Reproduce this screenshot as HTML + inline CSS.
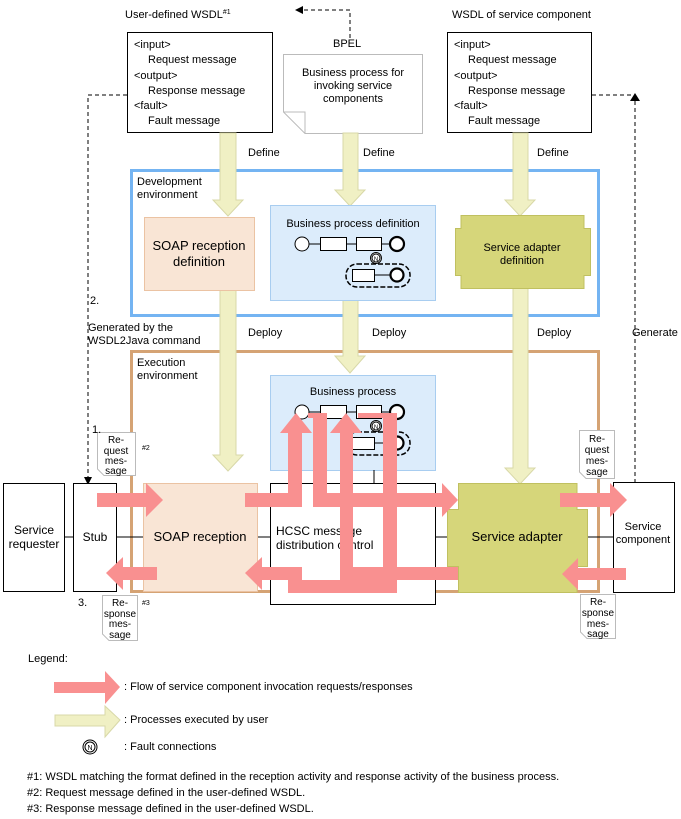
<!DOCTYPE html>
<html><head><meta charset="utf-8"><style>
html,body{margin:0;padding:0;background:#fff}
svg{display:block;font-family:"Liberation Sans",sans-serif;font-size:11px;fill:#000}
</style></head><body>
<svg width="681" height="819" viewBox="0 0 681 819" xmlns="http://www.w3.org/2000/svg">
<defs>
<marker id="ah" markerWidth="8" markerHeight="8" refX="7" refY="4" orient="auto" markerUnits="userSpaceOnUse"><path d="M0,0 L8,4 L0,8 z" fill="#000"/></marker>
</defs>
<g font-size="11">
<text x="125" y="18">User-defined WSDL<tspan font-size="7" dy="-4">#1</tspan></text>
<text x="452" y="18">WSDL of service component</text>
<text x="333" y="47">BPEL</text>
<path d="M350,38 V10 H296" fill="none" stroke="#000" stroke-dasharray="4,3" marker-end="url(#ah)"/>
<rect x="127.5" y="32.5" width="145" height="100" fill="#fff" stroke="#000"/>
<text x="134" y="48">&lt;input&gt;</text><text x="148" y="63">Request message</text>
<text x="134" y="79">&lt;output&gt;</text><text x="148" y="94">Response message</text>
<text x="134" y="109">&lt;fault&gt;</text><text x="148" y="124">Fault message</text>
<rect x="447.5" y="32.5" width="144" height="100" fill="#fff" stroke="#000"/>
<text x="454" y="48">&lt;input&gt;</text><text x="468" y="63">Request message</text>
<text x="454" y="79">&lt;output&gt;</text><text x="468" y="94">Response message</text>
<text x="454" y="109">&lt;fault&gt;</text><text x="468" y="124">Fault message</text>
<path d="M283.5,54.5 H422.5 V133.5 H305 L283.5,112 z" fill="#fff" stroke="#bbb"/>
<path d="M283.5,112 L305,112 L305,133.5" fill="none" stroke="#bbb"/>
<text x="353" y="76" text-anchor="middle">Business process for</text>
<text x="353" y="89" text-anchor="middle">invoking service</text>
<text x="353" y="102" text-anchor="middle">components</text>
<path d="M127,95 H88 V484" fill="none" stroke="#000" stroke-dasharray="4,3" marker-end="url(#ah)"/>
<path d="M592,95 H635 V482" fill="none" stroke="#000" stroke-dasharray="4,3"/>
<path d="M630,101 L635,93 L640,101 z" fill="#000"/>
<rect x="131.5" y="170.5" width="467" height="145" fill="none" stroke="#74b4f2" stroke-width="3"/>
<text x="137" y="185">Development</text><text x="137" y="198">environment</text>
<rect x="131.5" y="351.5" width="467" height="240" fill="none" stroke="#d5a374" stroke-width="3"/>
<text x="137" y="366">Execution</text><text x="137" y="379">environment</text>
<g fill="#f0f0c4" stroke="#d8d8a8">
<path d="M220,133 H236 V200 H243 L228,216 L213,200 H220 z"/>
<path d="M343,133 H358 V190 H365 L350,206 L335,190 H343 z"/>
<path d="M513,133 H528 V200 H535 L520,216 L505,200 H513 z"/>
<path d="M220,290 H236 V455 H243 L228,471 L213,455 H220 z"/>
<path d="M343,300 H358 V356 H365 L350,373 L335,356 H343 z"/>
<path d="M513,288 H528 V468 H535 L520,484 L505,468 H513 z"/>
</g>
<text x="248" y="156">Define</text><text x="363" y="156">Define</text><text x="537" y="156">Define</text>
<text x="248" y="336">Deploy</text><text x="372" y="336">Deploy</text><text x="537" y="336">Deploy</text>
<text x="90" y="304">2.</text>
<text x="88" y="331">Generated by the</text><text x="88" y="344">WSDL2Java command</text>
<text x="632" y="336">Generate</text>
<rect x="144.5" y="217.5" width="110" height="73" fill="#f9e5d5" stroke="#ebc3a3"/>
<text x="199" y="250" text-anchor="middle" font-size="13">SOAP reception</text>
<text x="199" y="266" text-anchor="middle" font-size="13">definition</text>
<rect x="270.5" y="205.5" width="165" height="95" fill="#dcecfb" stroke="#a8cdf0"/>
<text x="353" y="227" text-anchor="middle">Business process definition</text>
<path d="M455.5,228.5 H461 V215.5 H584 V228.5 H590.5 V275.5 H584 V288.5 H461 V275.5 H455.5 z" fill="#d6d67a" stroke="#c0c060"/>
<text x="522" y="251" text-anchor="middle">Service adapter</text>
<text x="522" y="264" text-anchor="middle">definition</text>
<g id="pd" fill="#fff" stroke="#000">
<line x1="305" y1="244" x2="390" y2="244"/>
<circle cx="302" cy="244" r="7"/>
<rect x="320.5" y="237.5" width="26" height="13"/>
<rect x="356.5" y="237.5" width="25" height="13"/>
<circle cx="397" cy="244" r="7" stroke-width="2.2"/>
<circle cx="376" cy="258" r="5.5"/><circle cx="376" cy="258" r="4"/>
<rect x="346" y="264" width="64" height="23" rx="11" fill="none" stroke-dasharray="5,2" stroke-width="1.5"/>
<line x1="375" y1="275" x2="392" y2="275"/>
<rect x="352.5" y="269.5" width="22" height="12"/>
<circle cx="397" cy="275" r="6.5" stroke-width="2.2"/>
</g>
<text x="376" y="261" font-size="6" text-anchor="middle">N</text>
<rect x="270.5" y="375.5" width="165" height="95" fill="#dcecfb" stroke="#a8cdf0"/>
<text x="353" y="395" text-anchor="middle">Business process</text>
<use href="#pd" transform="translate(0,168)"/>
<text x="376" y="429" font-size="6" text-anchor="middle">N</text>
<line x1="374" y1="470" x2="374" y2="483" stroke="#000"/>
<rect x="270.5" y="483.5" width="165" height="121" fill="#fff" stroke="#000"/>
<text x="276" y="535" font-size="12">HCSC message</text>
<text x="276" y="549" font-size="12">distribution control</text>
<line x1="64" y1="537" x2="73" y2="537" stroke="#000"/>
<line x1="116" y1="537" x2="144" y2="537" stroke="#000"/>
<line x1="257" y1="537" x2="271" y2="537" stroke="#000"/>
<line x1="435" y1="537" x2="448" y2="537" stroke="#000"/>
<line x1="587" y1="537" x2="613" y2="537" stroke="#000"/>
<rect x="3.5" y="483.5" width="61" height="108" fill="#fff" stroke="#000"/>
<text x="34" y="534" text-anchor="middle" font-size="12">Service</text>
<text x="34" y="548" text-anchor="middle" font-size="12">requester</text>
<rect x="73.5" y="483.5" width="43" height="108" fill="#fff" stroke="#000"/>
<text x="95" y="541" text-anchor="middle" font-size="12">Stub</text>
<rect x="143.5" y="483.5" width="114" height="108" fill="#f9e5d5" stroke="#ebc3a3"/>
<text x="200" y="541" text-anchor="middle" font-size="13">SOAP reception</text>
<path d="M458.5,483.5 H577 V509.5 H587.5 V566.5 H577 V592.5 H458.5 V566.5 H447.5 V509.5 H458.5 z" fill="#d6d67a" stroke="#c0c060"/>
<text x="517" y="541" text-anchor="middle" font-size="13">Service adapter</text>
<rect x="613.5" y="482.5" width="61" height="110" fill="#fff" stroke="#000"/>
<text x="643" y="530" text-anchor="middle">Service</text>
<text x="643" y="543" text-anchor="middle">component</text>
<g fill="#f99090">
<path d="M97,493 H146 V483 L163,500 L146,517 V507 H97 z"/>
<path d="M157,567 H123 V557 L106,573 L123,590 V580 H157 z"/>
<path d="M245,493 H288 V433 H280 L296,413 L312,433 H302 V507 H245 z"/>
<path d="M308,413 H327 V493 H442 V483 L458,500 L442,517 V507 H313 V418 H308 z"/>
<path d="M458,567 H353 V433 H362 L346,413 L330,433 H340 V580 H458 z"/>
<path d="M358,413 H397 V593 H288 V580 H262 V590 L245,573 L262,557 V567 H302 V580 H383 V418 H358 z"/>
<path d="M560,493 H610 V483 L627,500 L610,517 V507 H560 z"/>
<path d="M626,568 H578 V558 L562,574 L578,590 V580 H626 z"/>
</g>
<g fill="#fff" stroke="#bbb">
<path d="M97.5,432.5 H135.5 V475.5 H104 L97.5,469 z"/>
<path d="M102.5,595.5 H137.5 V640.5 H109 L102.5,634 z"/>
<path d="M579.5,430.5 H614.5 V478.5 H586 L579.5,472 z"/>
<path d="M580.5,594.5 H615.5 V638.5 H587 L580.5,632 z"/>
</g>
<g font-size="10" text-anchor="middle">
<text x="116" y="443">Re-</text><text x="116" y="454">quest</text><text x="116" y="464">mes-</text><text x="116" y="474">sage</text>
<text x="120" y="606">Re-</text><text x="120" y="617">sponse</text><text x="120" y="627">mes-</text><text x="120" y="638">sage</text>
<text x="597" y="442">Re-</text><text x="597" y="453">quest</text><text x="597" y="464">mes-</text><text x="597" y="475">sage</text>
<text x="598" y="605">Re-</text><text x="598" y="616">sponse</text><text x="598" y="627">mes-</text><text x="598" y="637">sage</text>
</g>
<text x="142" y="450" font-size="7">#2</text>
<text x="142" y="605" font-size="7">#3</text>
<text x="92" y="433">1.</text>
<text x="78" y="606">3.</text>
<text x="28" y="662">Legend:</text>
<path d="M54,682 H105 V671 L120,687 L105,704 V693 H54 z" fill="#f99090"/>
<text x="124" y="690">: Flow of service component invocation requests/responses</text>
<path d="M55,715 H105 V706 L120,720 L105,737 V726 H55 z" fill="#f0f0c4" stroke="#d8d8a8"/>
<text x="124" y="723">: Processes executed by user</text>
<circle cx="90" cy="747" r="7" fill="#fff" stroke="#000"/><circle cx="90" cy="747" r="5" fill="none" stroke="#000"/>
<text x="90" y="750" font-size="7" text-anchor="middle">N</text>
<text x="124" y="750">: Fault connections</text>
<text x="27" y="780">#1: WSDL matching the format defined in the reception activity and response activity of the business process.</text>
<text x="27" y="796">#2: Request message defined in the user-defined WSDL.</text>
<text x="27" y="812">#3: Response message defined in the user-defined WSDL.</text>
</g>
</svg>
</body></html>
